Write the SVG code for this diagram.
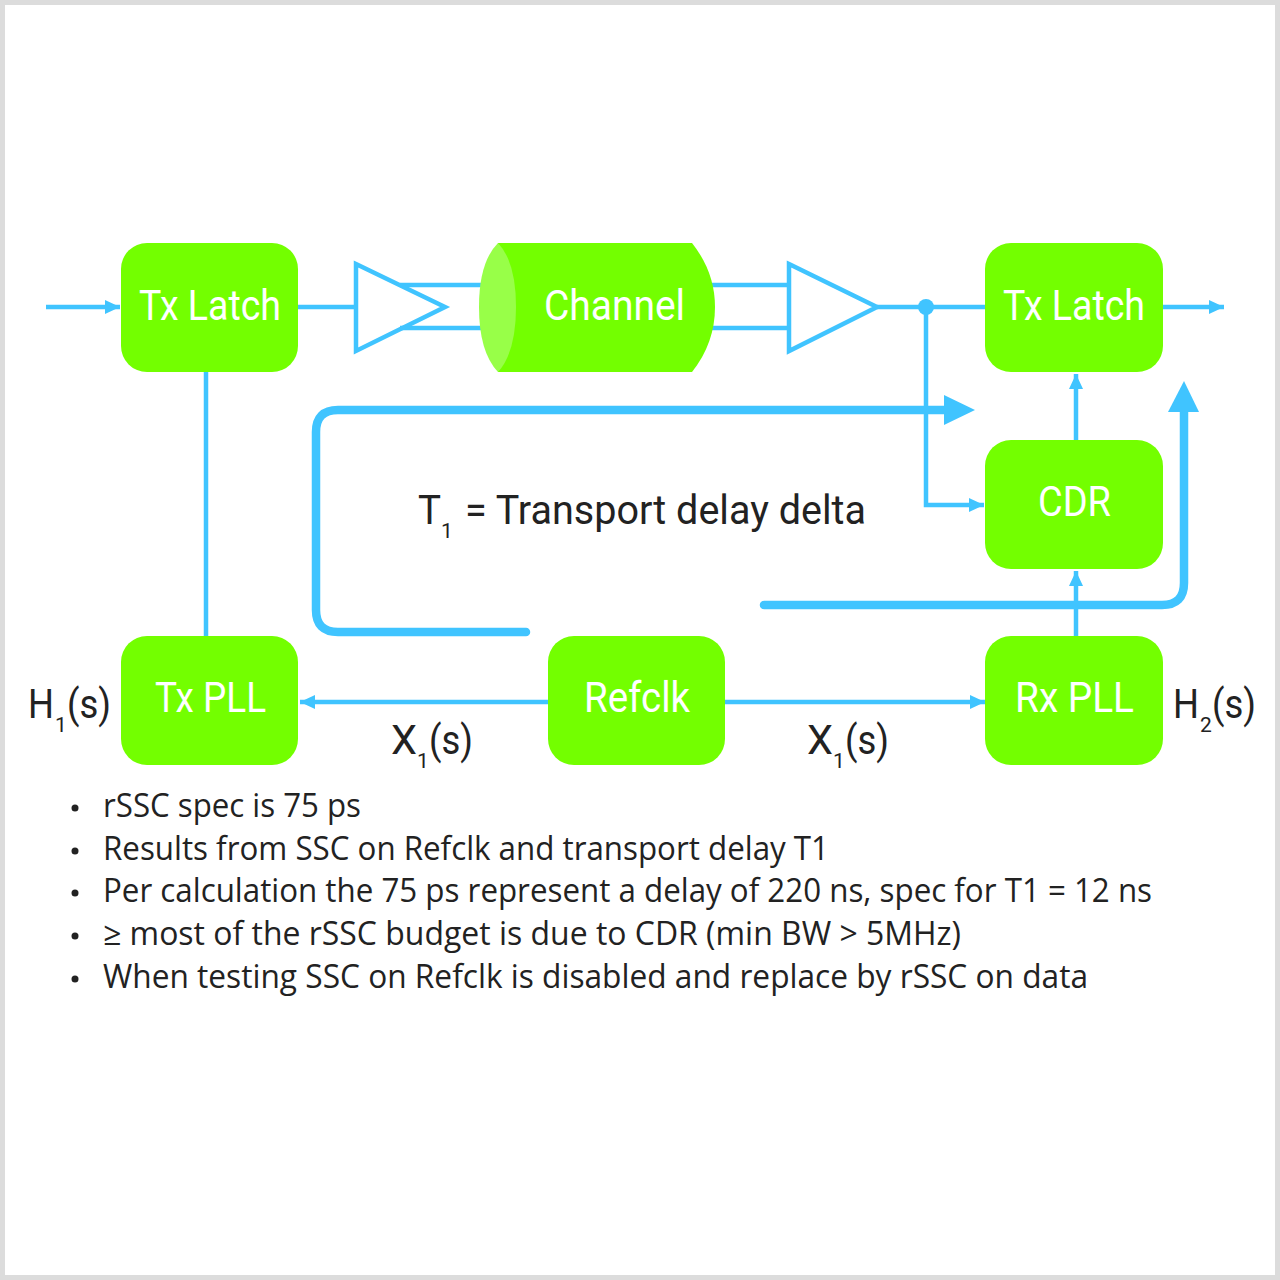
<svg xmlns="http://www.w3.org/2000/svg" width="1280" height="1280" viewBox="0 0 1280 1280">
<style>
.box{fill:#73ff00}
.lbl{font-family:Roboto,"Liberation Sans",sans-serif;font-size:43px;fill:#fff}
.dark{font-family:Roboto,"Liberation Sans",sans-serif;font-size:41px;fill:#222}
.sub{font-family:Roboto,"Liberation Sans",sans-serif;font-size:21px;fill:#222}
.b{font-family:"Open Sans","Liberation Sans",sans-serif;font-size:32px;fill:#222}
.thin{fill:none;stroke:#40c4ff;stroke-width:4.500}
.thick{fill:none;stroke:#40c4ff;stroke-width:8.500;stroke-linecap:round}
.head{fill:#40c4ff}
.dot{fill:#222}
</style>
<defs>
<marker id="a" markerUnits="userSpaceOnUse" markerWidth="16" markerHeight="14" refX="15" refY="7" orient="auto"><path d="M0 0L15 7L0 14Z" class="head"/></marker>
</defs>
<rect x="2.500" y="2.500" width="1275" height="1275" fill="#fff" stroke="#dcdcdc" stroke-width="5"/>
<g id="connectors">
<path class="thin" d="M46 307H120" marker-end="url(#a)"/>
<path class="thin" d="M298 307H356"/>
<path class="thin" d="M400 285H482M400 328H482"/>
<path class="thin" d="M712 285H789M712 328H789"/>
<path class="thin" d="M877 307H986"/>
<circle class="head" cx="926" cy="307" r="8"/>
<path class="thin" d="M926 307V505H984" marker-end="url(#a)"/>
<path class="thin" d="M1163 307H1224" marker-end="url(#a)"/>
<path class="thin" d="M1076 441V374" marker-end="url(#a)"/>
<path class="thin" d="M1076 637V571" marker-end="url(#a)"/>
<path class="thin" d="M206 372V637"/>
<path class="thin" d="M549 702H300" marker-end="url(#a)"/>
<path class="thin" d="M725 702H985" marker-end="url(#a)"/>
<path class="thick" d="M526 632H338Q316 632 316 610V432Q316 410 338 410H945"/>
<path class="head" d="M944 395L975 410L944 425Z"/>
<path class="thick" d="M764 605H1162Q1184 605 1184 583V412"/>
<path class="head" d="M1168 412L1184 381L1199 412Z"/>
<path class="thin" d="M356 264L445 307L356 351Z"/>
<path class="thin" d="M789 264L877 307L789 351Z"/>
</g>
<g id="tx-latch-1"><rect class="box" x="121" y="243" width="177" height="129" rx="26"/><text class="lbl" x="139" y="320" textLength="142" lengthAdjust="spacingAndGlyphs">Tx Latch</text></g>
<g id="channel"><path class="box" d="M498 243H692Q715 272 715 307Q715 343 692 372H498Z"/><path fill="#98ff48" d="M498 243Q516 262 516 307Q516 352 498 372Q479 352 479 307Q479 262 498 243Z"/><text class="lbl" x="544" y="320" textLength="141" lengthAdjust="spacingAndGlyphs">Channel</text></g>
<g id="tx-latch-2"><rect class="box" x="985" y="243" width="178" height="129" rx="26"/><text class="lbl" x="1003" y="320" textLength="142" lengthAdjust="spacingAndGlyphs">Tx Latch</text></g>
<g id="cdr"><rect class="box" x="985" y="440" width="178" height="129" rx="26"/><text class="lbl" x="1038" y="516" textLength="73" lengthAdjust="spacingAndGlyphs">CDR</text></g>
<g id="tx-pll"><rect class="box" x="121" y="636" width="177" height="129" rx="26"/><text class="lbl" x="155" y="712" textLength="111" lengthAdjust="spacingAndGlyphs">Tx PLL</text></g>
<g id="refclk"><rect class="box" x="548" y="636" width="177" height="129" rx="26"/><text class="lbl" x="584" y="712" textLength="106" lengthAdjust="spacingAndGlyphs">Refclk</text></g>
<g id="rx-pll"><rect class="box" x="985" y="636" width="178" height="129" rx="26"/><text class="lbl" x="1015" y="712" textLength="119" lengthAdjust="spacingAndGlyphs">Rx PLL</text></g>
<g id="labels">
<text class="dark" x="418" y="524" textLength="23" lengthAdjust="spacingAndGlyphs">T</text><text class="sub" x="441" y="538">1</text>
<text class="dark" x="465" y="524" textLength="401" lengthAdjust="spacingAndGlyphs">= Transport delay delta</text>
<text class="dark" x="28" y="718" textLength="26" lengthAdjust="spacingAndGlyphs">H</text><text class="sub" x="55" y="732">1</text><text class="dark" x="67" y="718" textLength="44" lengthAdjust="spacingAndGlyphs">(s)</text>
<text class="dark" x="1173" y="718" textLength="26" lengthAdjust="spacingAndGlyphs">H</text><text class="sub" x="1200" y="732">2</text><text class="dark" x="1212" y="718" textLength="44" lengthAdjust="spacingAndGlyphs">(s)</text>
<text class="dark" x="391" y="754" textLength="26" lengthAdjust="spacingAndGlyphs">X</text><text class="sub" x="417" y="768">1</text><text class="dark" x="429" y="754" textLength="44" lengthAdjust="spacingAndGlyphs">(s)</text>
<text class="dark" x="807" y="754" textLength="26" lengthAdjust="spacingAndGlyphs">X</text><text class="sub" x="833" y="768">1</text><text class="dark" x="845" y="754" textLength="44" lengthAdjust="spacingAndGlyphs">(s)</text>
</g>
<g id="notes">
<circle class="dot" cx="75" cy="808" r="3.500"/><circle class="dot" cx="75" cy="851" r="3.500"/><circle class="dot" cx="75" cy="893" r="3.500"/><circle class="dot" cx="75" cy="936" r="3.500"/><circle class="dot" cx="75" cy="979" r="3.500"/>
<text class="b" x="103" y="817" textLength="258" lengthAdjust="spacingAndGlyphs">rSSC spec is 75 ps</text>
<text class="b" x="103" y="860" textLength="726" lengthAdjust="spacingAndGlyphs">Results from SSC on Refclk and transport delay T1</text>
<text class="b" x="103" y="902" textLength="1049" lengthAdjust="spacingAndGlyphs">Per calculation the 75 ps represent a delay of 220 ns, spec for T1 = 12 ns</text>
<text class="b" x="103" y="945" textLength="858" lengthAdjust="spacingAndGlyphs">≥ most of the rSSC budget is due to CDR (min BW &gt; 5MHz)</text>
<text class="b" x="103" y="988" textLength="985" lengthAdjust="spacingAndGlyphs">When testing SSC on Refclk is disabled and replace by rSSC on data</text>
</g>
</svg>
